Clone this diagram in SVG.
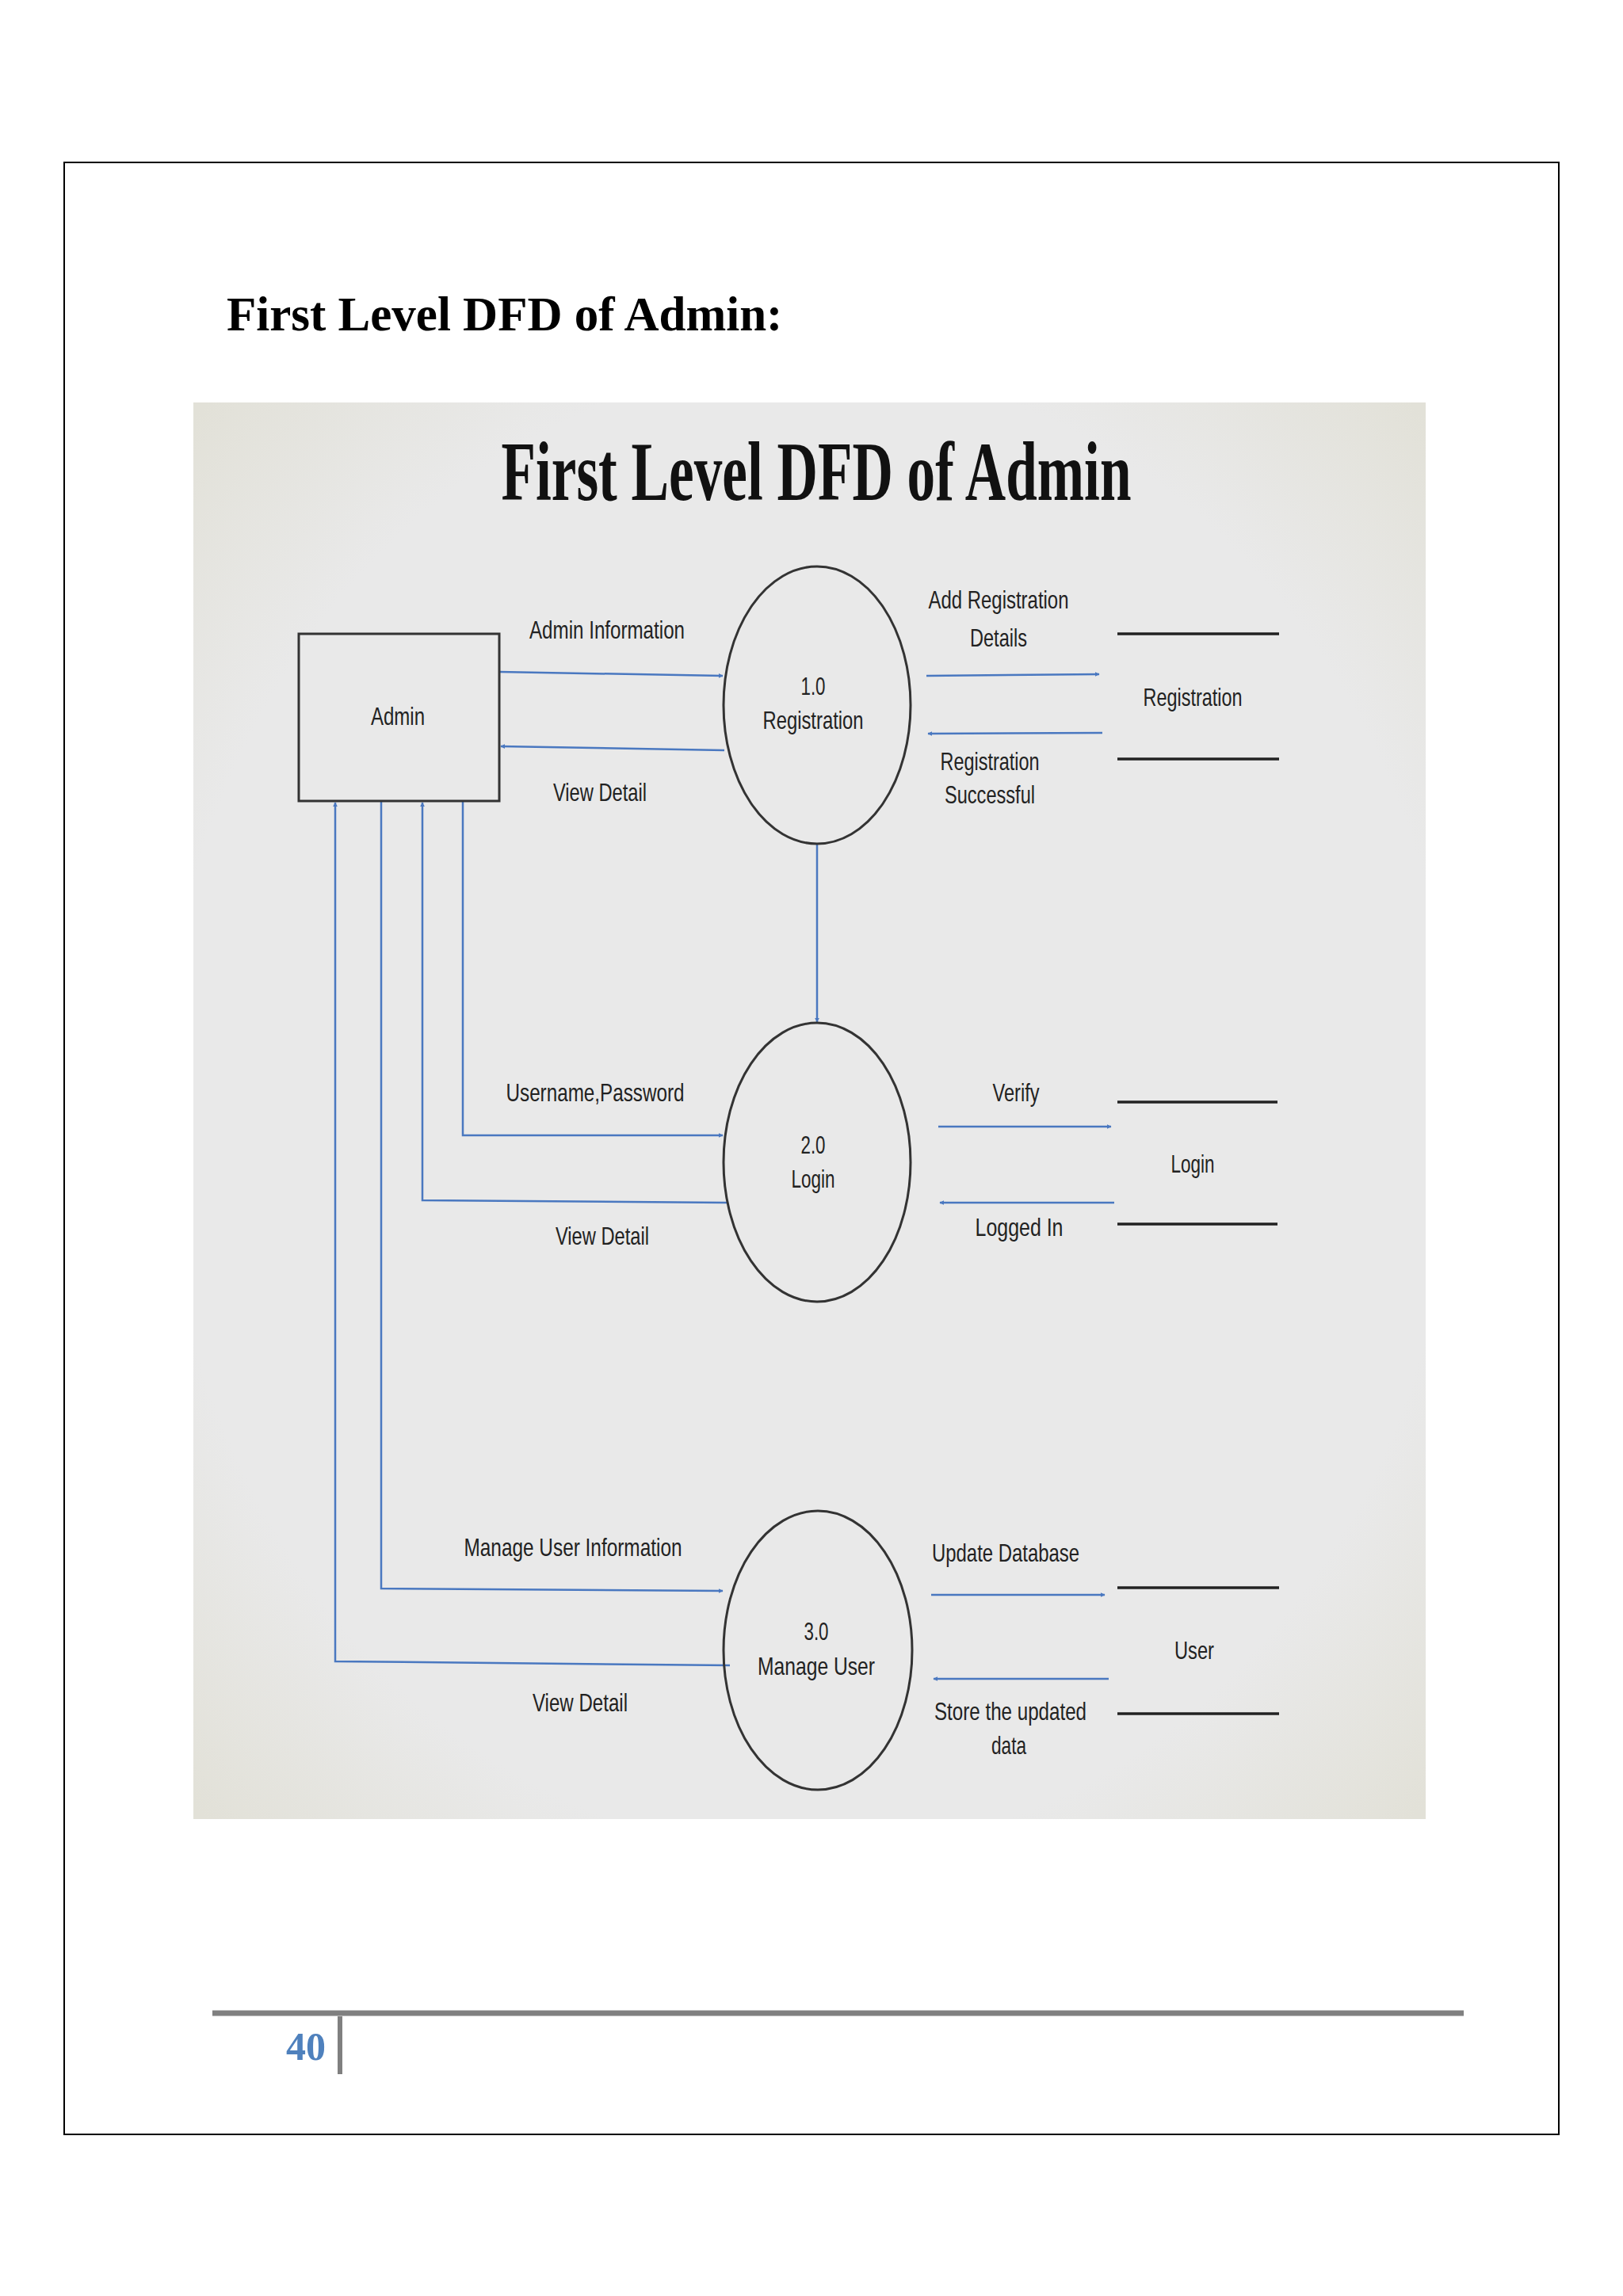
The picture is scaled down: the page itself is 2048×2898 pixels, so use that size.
<svg xmlns="http://www.w3.org/2000/svg" width="2048" height="2898" viewBox="0 0 2048 2898">
<style>
.lbl{font-family:"Liberation Sans",Arial,sans-serif;font-size:32px;fill:#222;text-anchor:middle}
.flow{fill:none;stroke:#4a78c0;stroke-width:2.5}
.shape{fill:none;stroke:#333;stroke-width:3}
.store{stroke:#222;stroke-width:3.5}
</style>
<defs>
<marker id="ah" viewBox="0 0 10 10" refX="9" refY="5" markerWidth="6" markerHeight="6" orient="auto" markerUnits="userSpaceOnUse"><path d="M0,0 L10,5 L0,10 z" fill="#4a78c0"/></marker>
<radialGradient id="bg" cx="50%" cy="50%" r="70%"><stop offset="0.75" stop-color="#e9e9e9"/><stop offset="1" stop-color="#e2e1d8"/></radialGradient>
</defs>
<rect width="2048" height="2898" fill="#fff"/>
<rect x="81" y="205" width="1886" height="2489" fill="none" stroke="#000" stroke-width="2"/>
<text x="286" y="417" font-family="Liberation Serif,serif" font-weight="bold" font-size="61">First Level DFD of Admin:</text>
<rect x="244" y="508" width="1555" height="1788" fill="url(#bg)"/>
<text x="1030" y="631" font-family="Liberation Serif,serif" font-weight="bold" font-size="105" text-anchor="middle" textLength="795" lengthAdjust="spacingAndGlyphs" fill="#111">First Level DFD of Admin</text>

<g id="connectors">
<path class="flow" d="M630,848 L912,853" marker-end="url(#ah)"/>
<path class="flow" d="M914,947 L632,942" marker-end="url(#ah)"/>
<path class="flow" d="M1169,853 L1387,851" marker-end="url(#ah)"/>
<path class="flow" d="M1391,925 L1171,926" marker-end="url(#ah)"/>
<path class="flow" d="M1031,1065 L1031,1290" marker-end="url(#ah)"/>
<path class="flow" d="M584,1011 L584,1433 L912,1433" marker-end="url(#ah)"/>
<path class="flow" d="M917,1518 L533,1515 L533,1013" marker-end="url(#ah)"/>
<path class="flow" d="M1184,1422 L1402,1422" marker-end="url(#ah)"/>
<path class="flow" d="M1406,1518 L1186,1518" marker-end="url(#ah)"/>
<path class="flow" d="M481,1011 L481,2005 L912,2008" marker-end="url(#ah)"/>
<path class="flow" d="M921,2102 L423,2097 L423,1013" marker-end="url(#ah)"/>
<path class="flow" d="M1175,2013 L1394,2013" marker-end="url(#ah)"/>
<path class="flow" d="M1399,2119 L1178,2119" marker-end="url(#ah)"/>
</g>
<g id="connector-labels">
<text class="lbl" x="766" y="806" textLength="196" lengthAdjust="spacingAndGlyphs">Admin Information</text>
<text class="lbl" x="757" y="1011" textLength="118" lengthAdjust="spacingAndGlyphs">View Detail</text>
<text class="lbl" x="1260" y="768" textLength="177" lengthAdjust="spacingAndGlyphs">Add Registration</text>
<text class="lbl" x="1260" y="816" textLength="72" lengthAdjust="spacingAndGlyphs">Details</text>
<text class="lbl" x="1249" y="972" textLength="125" lengthAdjust="spacingAndGlyphs">Registration</text>
<text class="lbl" x="1249" y="1014" textLength="114" lengthAdjust="spacingAndGlyphs">Successful</text>
<text class="lbl" x="751" y="1390" textLength="225" lengthAdjust="spacingAndGlyphs">Username,Password</text>
<text class="lbl" x="760" y="1571" textLength="118" lengthAdjust="spacingAndGlyphs">View Detail</text>
<text class="lbl" x="1282" y="1390" textLength="59" lengthAdjust="spacingAndGlyphs">Verify</text>
<text class="lbl" x="1286" y="1560" textLength="111" lengthAdjust="spacingAndGlyphs">Logged  In</text>
<text class="lbl" x="723" y="1964" textLength="275" lengthAdjust="spacingAndGlyphs">Manage  User  Information</text>
<text class="lbl" x="732" y="2160" textLength="120" lengthAdjust="spacingAndGlyphs">View Detail</text>
<text class="lbl" x="1269" y="1971" textLength="186" lengthAdjust="spacingAndGlyphs">Update  Database</text>
<text class="lbl" x="1275" y="2171" textLength="192" lengthAdjust="spacingAndGlyphs">Store  the  updated</text>
<text class="lbl" x="1273" y="2214" textLength="44" lengthAdjust="spacingAndGlyphs">data</text>
</g>

<g id="admin">
<rect class="shape" x="377" y="800" width="253" height="211"/>
<text class="lbl" x="502" y="915" textLength="68" lengthAdjust="spacingAndGlyphs">Admin</text>
</g>
<g id="p1">
<ellipse class="shape" cx="1031" cy="890" rx="118" ry="175"/>
<text class="lbl" x="1026" y="877" textLength="31" lengthAdjust="spacingAndGlyphs">1.0</text>
<text class="lbl" x="1026" y="920" textLength="127" lengthAdjust="spacingAndGlyphs">Registration</text>
</g>
<g id="p2">
<ellipse class="shape" cx="1031" cy="1467" rx="118" ry="176"/>
<text class="lbl" x="1026" y="1456" textLength="31" lengthAdjust="spacingAndGlyphs">2.0</text>
<text class="lbl" x="1026" y="1499" textLength="55" lengthAdjust="spacingAndGlyphs">Login</text>
</g>
<g id="p3">
<ellipse class="shape" cx="1032" cy="2083" rx="119" ry="176"/>
<text class="lbl" x="1030" y="2070" textLength="31" lengthAdjust="spacingAndGlyphs">3.0</text>
<text class="lbl" x="1030" y="2114" textLength="148" lengthAdjust="spacingAndGlyphs">Manage  User</text>
</g>
<g id="store-registration">
<line class="store" x1="1410" y1="800" x2="1614" y2="800"/>
<line class="store" x1="1410" y1="958" x2="1614" y2="958"/>
<text class="lbl" x="1505" y="891" textLength="125" lengthAdjust="spacingAndGlyphs">Registration</text>
</g>
<g id="store-login">
<line class="store" x1="1410" y1="1391" x2="1612" y2="1391"/>
<line class="store" x1="1410" y1="1545" x2="1612" y2="1545"/>
<text class="lbl" x="1505" y="1480" textLength="55" lengthAdjust="spacingAndGlyphs">Login</text>
</g>
<g id="store-user">
<line class="store" x1="1410" y1="2004" x2="1614" y2="2004"/>
<line class="store" x1="1410" y1="2163" x2="1614" y2="2163"/>
<text class="lbl" x="1507" y="2094" textLength="50" lengthAdjust="spacingAndGlyphs">User</text>
</g>

<line x1="268" y1="2541" x2="1847" y2="2541" stroke="#808080" stroke-width="7"/>
<line x1="429" y1="2545" x2="429" y2="2618" stroke="#808080" stroke-width="6"/>
<text x="386" y="2600" font-family="Liberation Serif,serif" font-weight="bold" font-size="50" text-anchor="middle" fill="#4f81bd">40</text>
</svg>
